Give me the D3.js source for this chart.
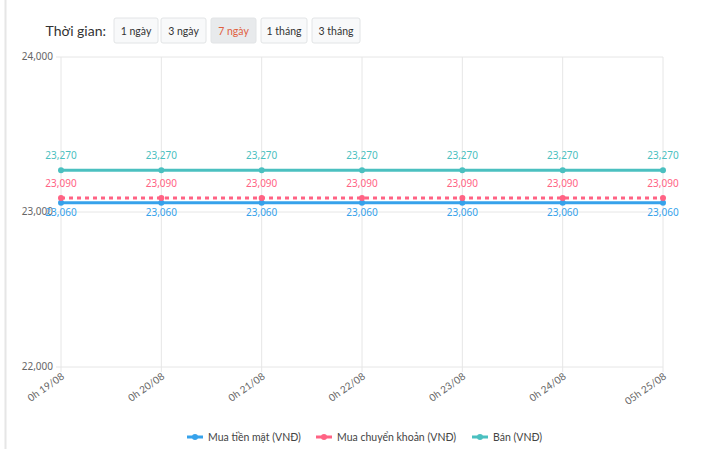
<!DOCTYPE html>
<html>
<head>
<meta charset="utf-8">
<script src="https://cdn.jsdelivr.net/npm/d3@7"></script>
<style>
body{margin:0;background:#fff;font-family:"Noto Sans",sans-serif;}
</style>
</head>
<body>
<script>
var categories = ["0h 19/08","0h 20/08","0h 21/08","0h 22/08","0h 23/08","0h 24/08","05h 25/08"];
var muaTienMat = [23060,23060,23060,23060,23060,23060,23060];
var muaChuyenKhoan = [23090,23090,23090,23090,23090,23090,23090];
var ban = [23270,23270,23270,23270,23270,23270,23270];
var yTicks = [22000,23000,24000];
var buttons = ["1 ngày","3 ngày","7 ngày","1 tháng","3 tháng"];

var svg = d3.select("body").append("svg").attr("width",720).attr("height",449);
svg.append("line").attr("x1",5.5).attr("x2",5.5).attr("y1",0).attr("y2",449).attr("stroke","#e6e6e6").attr("stroke-width",2);

svg.append("text").attr("x",106).attr("y",36).attr("text-anchor","end").attr("font-family","Lato").attr("font-size",14).attr("fill","#333").text("Thời gian:");
var bx = [114,161,211,261,312], bw = [44,45,45,46,48];
buttons.forEach(function(b,i){
  svg.append("rect").attr("x",bx[i]).attr("y",18).attr("width",bw[i]).attr("height",25).attr("rx",2)
    .attr("fill", i==2 ? "#e8eaec" : "#f8f9fa").attr("stroke","#e2e4e6");
  svg.append("text").attr("x",bx[i]+bw[i]/2).attr("y",35).attr("text-anchor","middle").attr("font-family","Lato").attr("font-size",10.5)
    .attr("fill", i==2 ? "#e0603e" : "#333").text(b);
});

var x = d3.scalePoint().domain(categories).range([61,663]);
var y = d3.scaleLinear().domain([22000,24000]).range([367,57]);

var g = svg.append("g");
categories.forEach(function(c){
  g.append("line").attr("x1",x(c)).attr("x2",x(c)).attr("y1",57).attr("y2",372).attr("stroke","#e6e6e6");
});
yTicks.forEach(function(t){
  g.append("line").attr("x1",56).attr("x2",663).attr("y1",y(t)).attr("y2",y(t)).attr("stroke","#e6e6e6");
  g.append("text").attr("x",53).attr("y",y(t)+3).attr("text-anchor","end").attr("font-size",10).attr("fill","#666").text(d3.format(",")(t));
});
categories.forEach(function(c){
  g.append("text").attr("transform","translate("+(x(c)+4)+",378) rotate(-35)").attr("text-anchor","end")
    .attr("font-family","Lato").attr("font-size",10).attr("fill","#666").text(c);
});

var series = [
  {name:"Mua tiền mặt (VNĐ)",data:muaTienMat,color:"#36a2eb",dash:null,dy:13},
  {name:"Mua chuyển khoản (VNĐ)",data:muaChuyenKhoan,color:"#ff6384",dash:"4,4",dy:-11},
  {name:"Bán (VNĐ)",data:ban,color:"#4bc0c0",dash:null,dy:-11}
];
var line = d3.line().x(function(d,i){return x(categories[i]);}).y(function(d){return y(d);});
series.forEach(function(s){
  svg.append("path").attr("d",line(s.data)).attr("fill","none").attr("stroke",s.color).attr("stroke-width",3)
    .attr("stroke-dasharray",s.dash);
  s.data.forEach(function(v,i){
    svg.append("circle").attr("cx",x(categories[i])).attr("cy",y(v)).attr("r",3).attr("fill",s.color);
    svg.append("text").attr("x",x(categories[i])).attr("y",y(v)+s.dy).attr("text-anchor","middle")
      .attr("font-size",10).attr("fill",s.color).text(d3.format(",")(v));
  });
});

var lx = [187,316,472];
series.forEach(function(s,i){
  svg.append("line").attr("x1",lx[i]).attr("x2",lx[i]+16).attr("y1",437).attr("y2",437).attr("stroke",s.color).attr("stroke-width",3);
  svg.append("circle").attr("cx",lx[i]+8).attr("cy",437).attr("r",3).attr("fill",s.color);
  svg.append("text").attr("x",lx[i]+21).attr("y",441).attr("font-family","Lato").attr("font-size",10.5).attr("fill","#444").text(s.name);
});
</script>
</body>
</html>
